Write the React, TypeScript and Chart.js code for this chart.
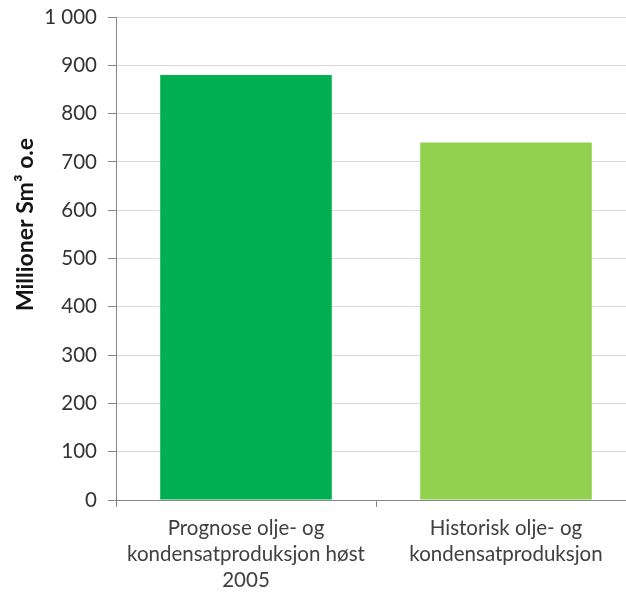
import React, { useEffect, useRef } from "react";
import { Chart, registerables } from "chart.js";

Chart.register(...registerables);

const categories: string[][] = [
  ["Prognose olje- og", "kondensatproduksjon høst", "2005"],
  ["Historisk olje- og", "kondensatproduksjon"],
];
const values: number[] = [880, 740];
const barColors: string[] = ["#00B050", "#92D050"];
const yTitle = "Millioner Sm³ o.e";

function formatTick(v: number): string {
  return v >= 1000 ? String(v).replace(/\B(?=(\d{3})+(?!\d))/g, " ") : String(v);
}

const FONT = "Lato";
const TITLE_SIZE = 23;

const titlePlugin = {
  id: "shiftedYTitle",
  afterDraw(chart: any) {
    const ctx = chart.ctx;
    const area = chart.chartArea;
    ctx.save();
    ctx.fillStyle = "#151515";
    ctx.font = `bold ${TITLE_SIZE}px ${FONT}`;
    ctx.textAlign = "center";
    ctx.textBaseline = "middle";
    const cx = 26;
    const cy = (area.top + area.bottom) / 2 - 34;
    ctx.translate(cx, cy);
    ctx.rotate(-Math.PI / 2);
    ctx.fillText(yTitle, 0, 0);
    ctx.restore();
  },
};

export default function App() {
  const ref = useRef<HTMLCanvasElement | null>(null);
  useEffect(() => {
    if (!ref.current) return;
    const chart = new Chart(ref.current, {
      type: "bar",
      data: {
        labels: categories,
        datasets: [
          {
            data: values,
            backgroundColor: barColors,
            borderWidth: 0,
            categoryPercentage: 1,
            barPercentage: 0.66,
          },
        ],
      },
      plugins: [titlePlugin],
      options: {
        responsive: false,
        animation: false,
        layout: { padding: { left: 1, top: 17, right: 8, bottom: 0 } },
        plugins: { legend: { display: false }, tooltip: { enabled: false } },
        scales: {
          x: {
            afterFit: (s: any) => {
              s.height = 94;
              s.paddingLeft = 0;
              s.paddingRight = 0;
            },
            grid: {
              display: true,
              offset: true,
              drawOnChartArea: false,
              drawTicks: true,
              tickLength: 7,
              color: "#868686",
            },
            border: { display: true, color: "#868686", width: 1 },
            ticks: {
              color: "#404040",
              font: { family: FONT, size: 20.5, lineHeight: 1.27 },
              padding: 8,
              maxRotation: 0,
              autoSkip: false,
            },
          },
          y: {
            afterFit: (s: any) => {
              s.width = 115;
              s.paddingTop = 0;
              s.paddingBottom = 0;
            },
            min: 0,
            max: 1000,
            ticks: {
              stepSize: 100,
              color: "#333",
              font: { family: FONT, size: 20.5 },
              padding: 11,
              callback: (v: any) => formatTick(Number(v)),
            },
            grid: { color: "#D9D9D9", tickLength: 8, tickColor: "#868686" },
            border: { display: true, color: "#868686", width: 1 },
          },
        },
      },
    });
    return () => chart.destroy();
  }, []);
  return (
    <div style={{ position: "absolute", left: 0, top: 0, width: 626, height: 594, overflow: "hidden", background: "#fff" }}>
      <canvas ref={ref} width={644} height={594} style={{ width: 644, height: 594, display: "block" }} />
    </div>
  );
}
